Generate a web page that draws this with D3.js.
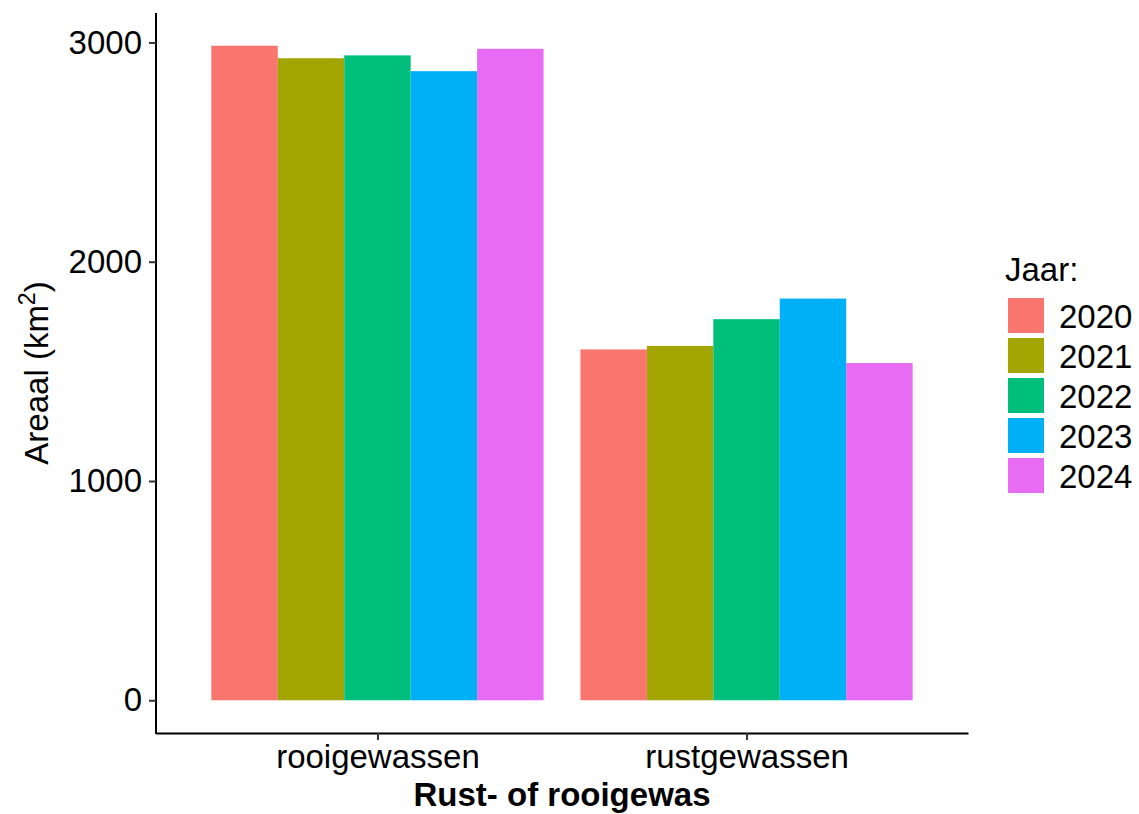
<!DOCTYPE html>
<html>
<head>
<meta charset="utf-8">
<script src="https://cdn.jsdelivr.net/npm/d3@7"></script>
<style>
  body { margin: 0; background: #fff; }
  text { font-family: "Liberation Sans", Arial, sans-serif; }
</style>
</head>
<body>
<div id="chart"></div>
<script>
// data
const categories = ["rooigewassen", "rustgewassen"]
const years = ["2020", "2021", "2022", "2023", "2024"]
const rooigewassen = [2985, 2928, 2941, 2869, 2971]
const rustgewassen = [1600, 1616, 1738, 1832, 1538]
const yTicks = [0, 1000, 2000, 3000]
const colors = ["#F8766D", "#A3A500", "#00BF7D", "#00B0F6", "#E76BF3"]

const width = 1139, height = 814
const margin = {top: 13, right: 171, bottom: 81, left: 156}
const fs = 33

// flat table for the bars
let rows = []
categories.forEach((c, i) => {
    let vals = i == 0 ? rooigewassen : rustgewassen
    years.forEach((y, j) => rows.push({cat: c, year: y, value: vals[j]}))
})

const svg = d3.select("#chart").append("svg")
    .attr("width", width)
    .attr("height", height)

//// scales, ggplot style expansion
let maxVal = d3.max(rows, d => d.value)
let y = d3.scaleLinear()
    .domain([-0.05 * maxVal, maxVal * 1.05])
    .range([height - margin.bottom, margin.top])

// discrete x with 0.6 unit padding on each side
let x = d3.scalePoint().domain(categories)
    .range([margin.left, width - margin.right]).padding(0.6)
let step = x.step()
let xSub = d3.scaleBand().domain(years).range([-0.45 * step, 0.45 * step])

let color = d3.scaleOrdinal().domain(years).range(colors)

//// bars
svg.append("g")
    .selectAll("rect")
    .data(rows)
    .join("rect")
    .attr("x", d => x(d.cat) + xSub(d.year))
    .attr("width", xSub.bandwidth())
    .attr("y", d => y(d.value))
    .attr("height", d => y(0) - y(d.value))
    .attr("fill", d => color(d.year))

//// axes
let yAxis = g => g.attr("transform", `translate(${margin.left},0)`)
    .call(d3.axisLeft(y).tickValues(yTicks).tickFormat(d3.format("d"))
        .tickSizeInner(7).tickSizeOuter(0).tickPadding(7))
let xAxis = g => g.attr("transform", `translate(0,${height - margin.bottom})`)
    .call(d3.axisBottom(x).tickSizeInner(7).tickSizeOuter(0).tickPadding(5))

svg.append("g").attr("class", "yaxis").call(yAxis)
svg.append("g").attr("class", "xaxis").call(xAxis)

svg.selectAll(".domain").attr("stroke", "#000").attr("stroke-width", 2)
svg.selectAll(".tick line").attr("stroke", "#333").attr("stroke-width", 2)
svg.selectAll(".tick text")
    .attr("fill", "#000")
    .attr("font-size", fs)
    .style("font-family", "Liberation Sans, Arial, sans-serif")

// y domain line should run the full panel height
svg.select(".yaxis path.domain")
    .attr("d", `M0,${margin.top}V${height - margin.bottom + 1}`)

//// axis titles
let ytitle = svg.append("text")
    .attr("transform", `translate(48,${(margin.top + height - margin.bottom) / 2}) rotate(-90)`)
    .attr("text-anchor", "middle")
    .attr("font-size", fs)
ytitle.append("tspan").text("Areaal (km")
ytitle.append("tspan").attr("font-size", 23).attr("dy", -13).text("2")
ytitle.append("tspan").attr("dy", 13).text(")")

svg.append("text")
    .attr("x", (margin.left + width - margin.right) / 2)
    .attr("y", 806)
    .attr("text-anchor", "middle")
    .attr("font-size", fs)
    .attr("font-weight", "bold")
    .text("Rust- of rooigewas")

//// legend
let legend = svg.append("g").attr("transform", "translate(1005,0)")
legend.append("text")
    .attr("x", 0).attr("y", 281)
    .attr("font-size", fs)
    .text("Jaar:")

let items = legend.selectAll("g.item")
    .data(years)
    .join("g")
    .attr("class", "item")
    .attr("transform", (d, i) => `translate(3,${298 + i * 40})`)
items.append("rect")
    .attr("width", 36).attr("height", 35)
    .attr("fill", d => color(d))
items.append("text")
    .attr("x", 51).attr("y", 30)
    .attr("font-size", fs)
    .text(d => d)
</script>
</body>
</html>
